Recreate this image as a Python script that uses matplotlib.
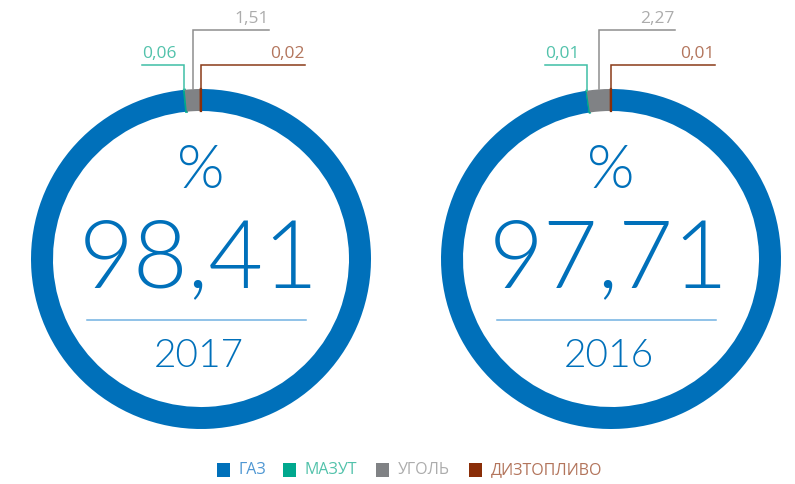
import matplotlib.pyplot as plt
import numpy as np

# fuel shares, %
fuels = ['ГАЗ', 'МАЗУТ', 'УГОЛЬ', 'ДИЗТОПЛИВО']
years = ['2017', '2016']
share_2017 = [98.41, 0.06, 1.51, 0.02]
share_2016 = [97.71, 0.01, 2.27, 0.01]
labels_2017 = ['98,41', '0,06', '1,51', '0,02']
labels_2016 = ['97,71', '0,01', '2,27', '0,01']

colors = ['#0070ba', '#00a88e', '#808285', '#8a2e08']
text_colors = ['#4f97d3', '#52c2ab', '#acacac', '#b3755c']
line_colors = ['#0070ba', '#3fbfa6', '#8e8e8e', '#8a3a18']

W, H = 795, 484
fig = plt.figure(figsize=(W / 100, H / 100), dpi=100)
ax = fig.add_axes([0, 0, 1, 1])
ax.set_xlim(0, W)
ax.set_ylim(0, H)
ax.axis('off')

num_font = ['Lato', 'Open Sans', 'DejaVu Sans']
lbl_font = ['Open Sans', 'DejaVu Sans']

R = 170
ring = 22
centers = [(201, 225), (611, 225)]

for (cx, cy), vals, labs, year in zip(centers, [share_2017, share_2016],
                                      [labels_2017, labels_2016], years):
    wedges, _ = ax.pie(vals, colors=colors, startangle=90, counterclock=False,
                       radius=R, center=(cx, cy), frame=True,
                       wedgeprops=dict(width=ring, linewidth=0))
    # make the tiny slices visible
    for w, v, c in zip(wedges[1:], vals[1:], colors[1:]):
        if v < 0.5:
            w.set_edgecolor(c)
            w.set_linewidth(1.6)

    # leader lines for small shares
    leader_y = [None, 419, 454, 419]
    end_dx = [None, -42, 76, 104]
    for i in range(1, 4):
        w = wedges[i]
        mid = np.deg2rad((w.theta1 + w.theta2) / 2)
        x0 = cx + R * np.cos(mid)
        y0 = cy + R * np.sin(mid)
        ly = leader_y[i]
        x1 = x0 + end_dx[i]
        ax.plot([x0, x0, x1], [y0, ly, ly], color=line_colors[i], lw=1.1,
                solid_joinstyle='miter')
        ha = 'left' if end_dx[i] < 0 else 'right'
        ax.text(x1, ly + 7, labs[i], ha=ha, va='baseline', fontsize=12.5,
                color=text_colors[i], family=lbl_font)

    # centre texts
    ax.text(cx, 296, '%', ha='center', va='baseline', fontsize=44,
            color=colors[0], family=num_font, fontweight=300)
    ax.text(cx - 2, 197, labs[0], ha='center', va='baseline', fontsize=68,
            color=colors[0], family=num_font, fontweight=300)
    ax.plot([cx - 114, cx + 105], [164, 164], color='#72b2e2', lw=1.1)
    ax.text(cx - 2, 117, year, ha='center', va='baseline', fontsize=28,
            color=colors[0], family=num_font, fontweight=300)

ax.set_xlim(0, W)
ax.set_ylim(0, H)
ax.set_aspect('equal')

# legend
leg_x = [217, 283, 376, 469]
for x, name, c, tc in zip(leg_x, fuels, colors, text_colors):
    ax.add_patch(plt.Rectangle((x, 7), 13, 14, color=c, lw=0))
    ax.text(x + 22, 14, name, ha='left', va='center', fontsize=11.5,
            color=tc, family=lbl_font)

fig.savefig('out.png', dpi=100)
